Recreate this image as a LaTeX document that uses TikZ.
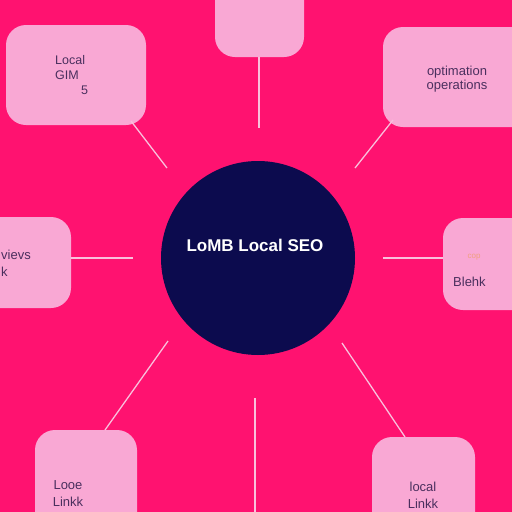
\documentclass[tikz,border=0pt]{standalone}
\usepackage{fontspec}
\setmainfont{Liberation Sans}
\definecolor{bgpink}{HTML}{FF1270}
\definecolor{boxpink}{HTML}{F9A8D4}
\definecolor{linepink}{HTML}{F9C0DC}
\definecolor{navy}{HTML}{0C0B4E}
\definecolor{txt}{HTML}{4A2F5E}
\definecolor{orng}{HTML}{F0A080}
\tikzset{
  pbox/.style={fill=boxpink, rounded corners=20pt},
  conn/.style={draw=linepink, line width=1.3pt},
  lbl/.style={text=txt, font=\fontsize{12}{14}\selectfont, align=center, inner sep=0pt},
}
\begin{document}
\begin{tikzpicture}[x=1pt,y=-1pt]
\useasboundingbox (0,0) rectangle (512,512);
\fill[bgpink] (0,0) rectangle (512,512);
% boxes
\path[pbox] (6,25) rectangle (146,125);
\path[pbox] (215,-30) rectangle (304,57);
\path[pbox] (383,27) rectangle (540,127);
\path[pbox] (-30,217) rectangle (71,308);
\path[pbox] (443,218) rectangle (540,310);
\path[pbox] (35,430) rectangle (137,540);
\path[pbox] (372,437) rectangle (475,540);
% center
\node[circle, fill=navy, minimum size=194pt, inner sep=0pt] (c) at (258,258) {};
\node[text=white, font=\bfseries\fontsize{17}{18}\selectfont, inner sep=0pt] (ct) at (255,245) {LoMB Local SEO};
% coordinates
\coordinate (a1) at (131,121); \coordinate (a2) at (167,168);
\coordinate (b1) at (259,57);  \coordinate (b2) at (259,128);
\coordinate (d1) at (393,120); \coordinate (d2) at (355,168);
\coordinate (e1) at (71,258);  \coordinate (e2) at (133,258);
\coordinate (f1) at (443,258); \coordinate (f2) at (383,258);
\coordinate (g1) at (105,430); \coordinate (g2) at (168,341);
\coordinate (h1) at (255,398); \coordinate (h2) at (255,512);
\coordinate (k1) at (405,437); \coordinate (k2) at (342,343);
\draw[conn] (a1) -- (a2);
\draw[conn] (b1) -- (b2);
\draw[conn] (d1) -- (d2);
\draw[conn] (e1) -- (e2);
\draw[conn] (f1) -- (f2);
\draw[conn] (g1) -- (g2);
\draw[conn] (h1) -- (h2);
\draw[conn] (k1) -- (k2);
% texts
\node[lbl, anchor=west, font=\fontsize{12.5}{14}\selectfont] (t1) at (55,60) {Local};
\node[lbl, anchor=west, font=\fontsize{12.5}{14}\selectfont] (t2) at (55,75) {GIM};
\node[lbl, anchor=west, font=\fontsize{12.5}{14}\selectfont] (t3) at (81,90) {5};
\node[lbl, font=\fontsize{13}{14}\selectfont] (t4) at (457,79) {optimation\\operations};
\node[lbl, anchor=west, font=\fontsize{13}{14}\selectfont] (t5) at (1,255) {vievs};
\node[lbl, anchor=west, font=\fontsize{13}{14}\selectfont] (t6) at (1,272) {k};
\node[lbl, text=orng, font=\fontsize{8}{9}\selectfont] (t7) at (474,257) {cop};
\node[lbl, anchor=west, font=\fontsize{13}{14}\selectfont] (t8) at (453,282) {Blehk};
\node[lbl, font=\fontsize{13}{17}\selectfont] (t9) at (68,494) {Looe\\Linkk};
\node[lbl, font=\fontsize{13}{17}\selectfont] (t10) at (423,495) {local\\Linkk};
\end{tikzpicture}
\end{document}
